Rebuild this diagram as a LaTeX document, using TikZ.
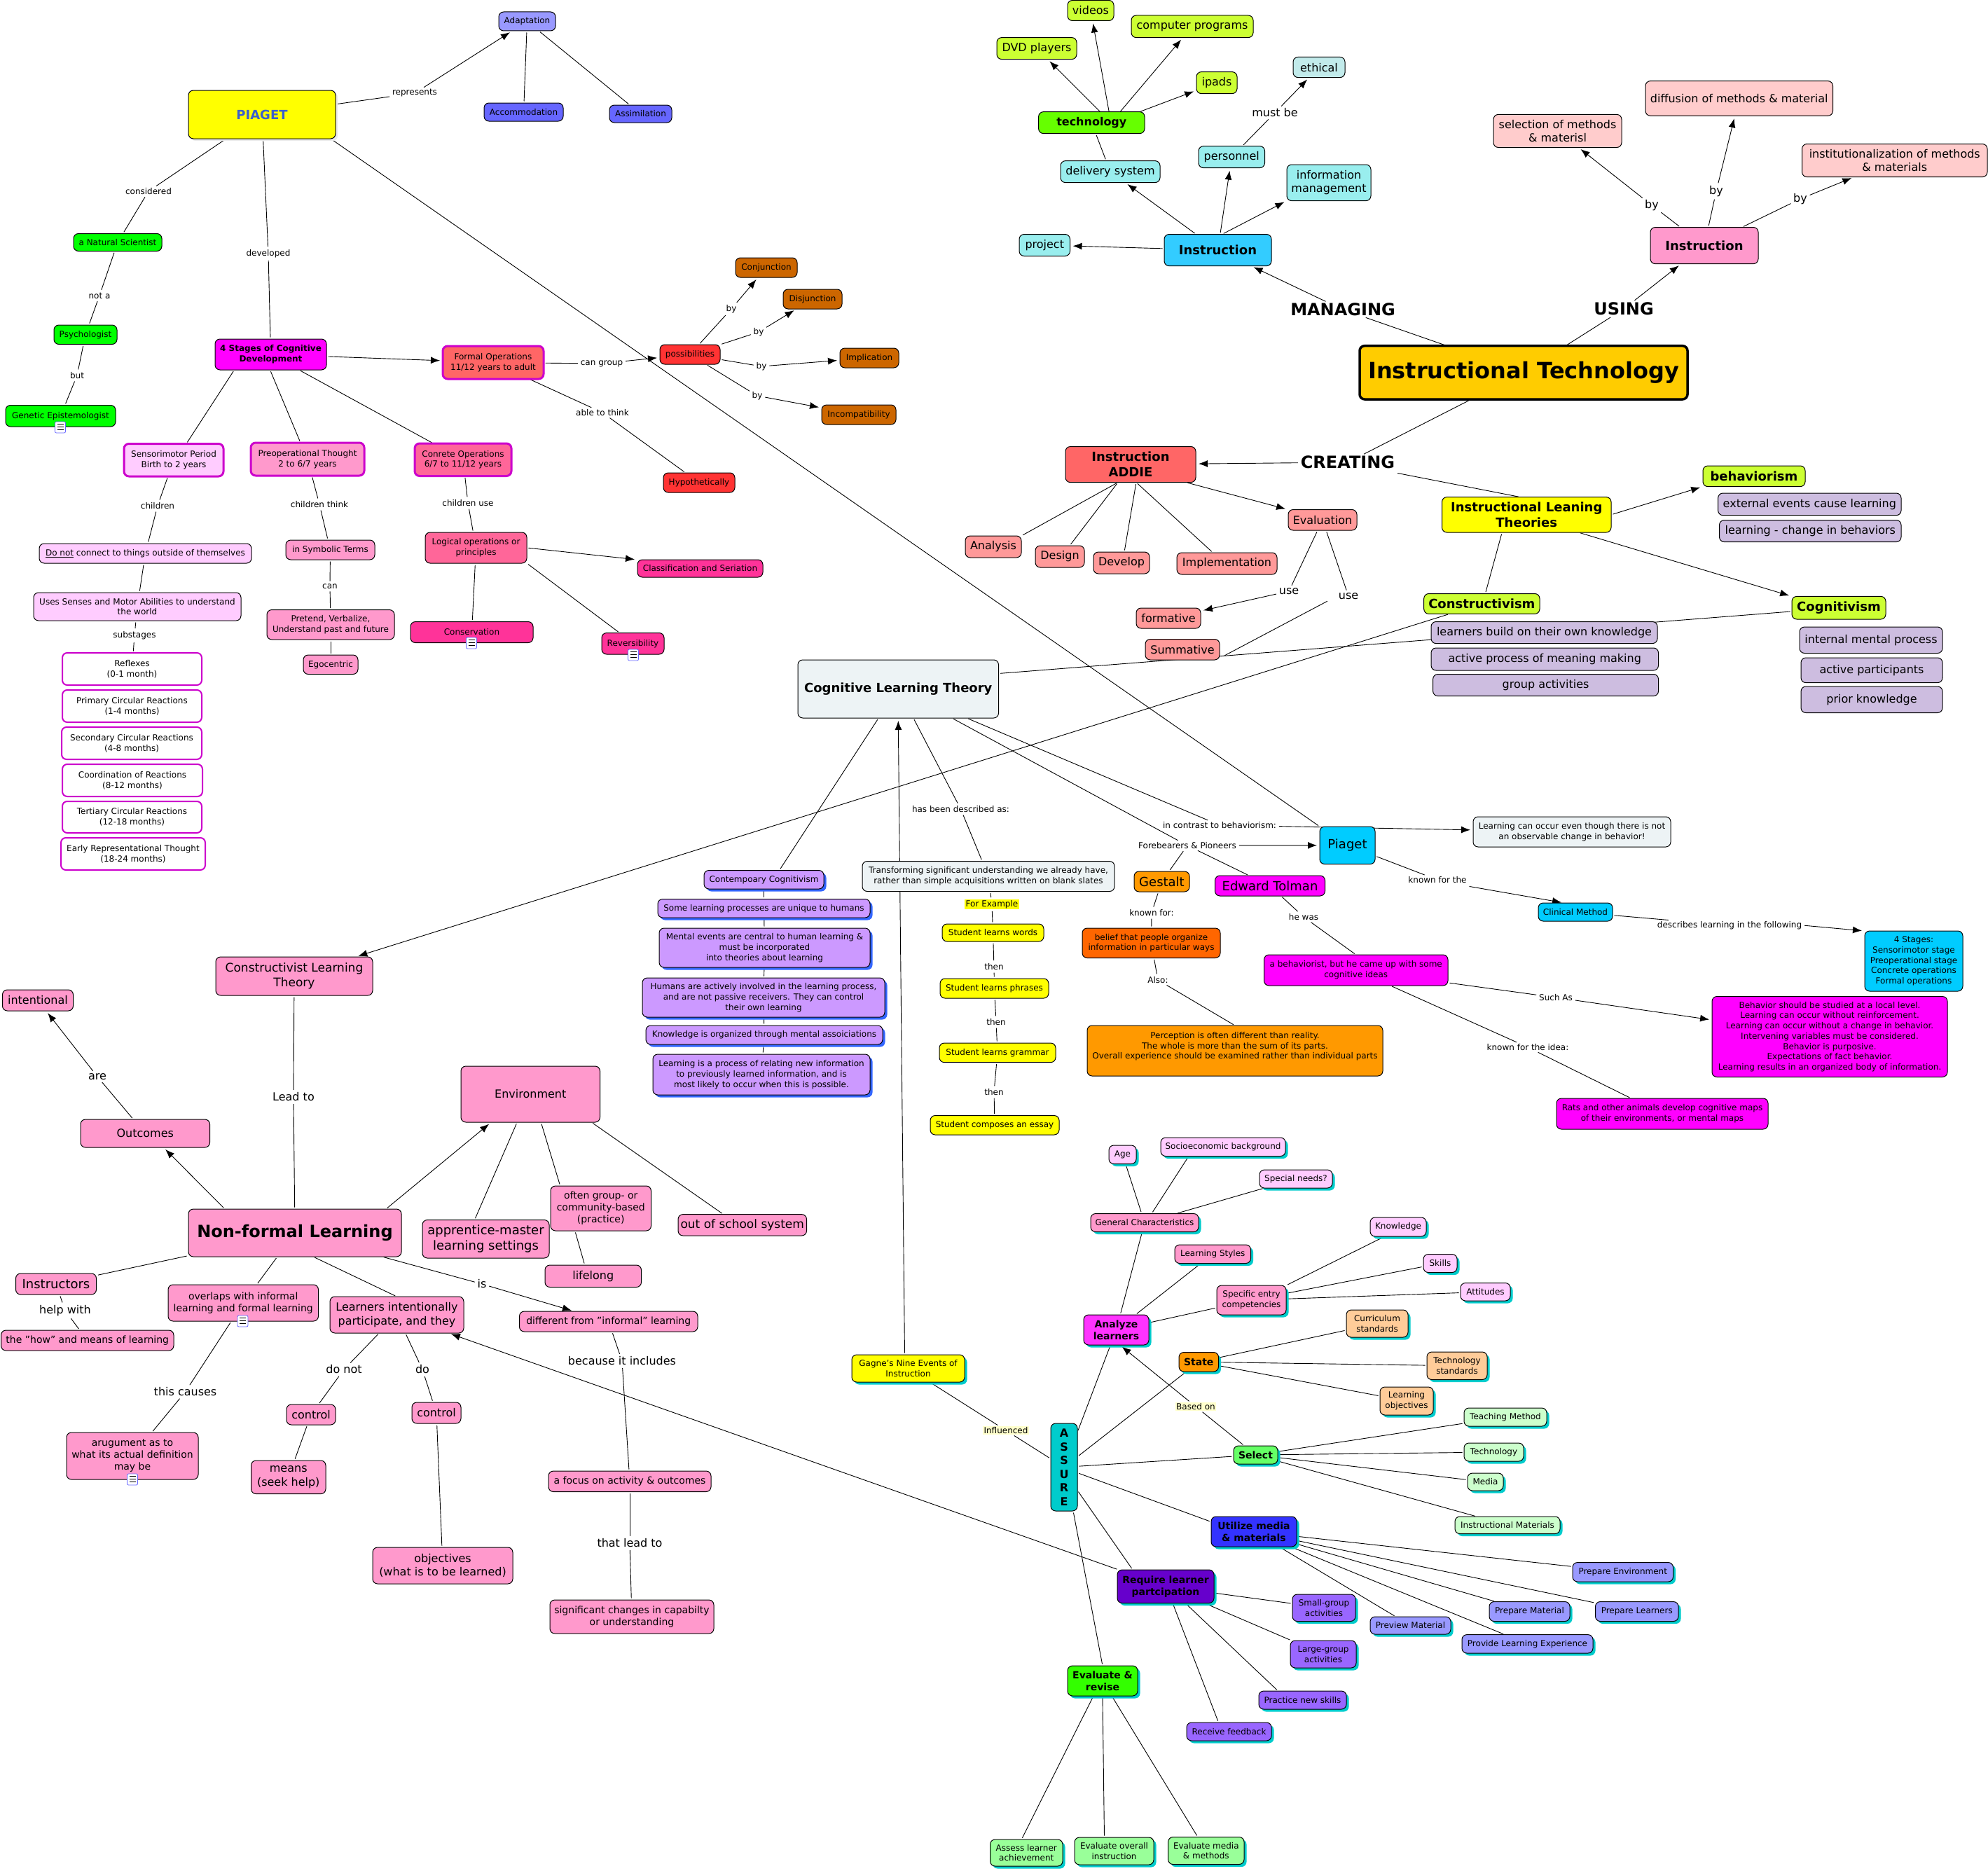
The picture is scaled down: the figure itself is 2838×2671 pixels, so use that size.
\documentclass[tikz,border=0pt]{standalone}
\usepackage{fontspec}
\setmainfont{DejaVu Sans}
\usetikzlibrary{arrows.meta,shadows,backgrounds}
\definecolor{cMag}{HTML}{CC00CC}
\definecolor{cSoft}{HTML}{EDF3F5}
\definecolor{cLil}{HTML}{CDBDE0}
\definecolor{cTeal}{HTML}{99EEEE}
\definecolor{cLime}{HTML}{CCFF33}
\definecolor{cPink}{HTML}{FF99CC}
\definecolor{cHot}{HTML}{FF3399}
\definecolor{cRose}{HTML}{FF6699}
\definecolor{cPale}{HTML}{FFCCFF}
\definecolor{cSalm}{HTML}{FF9999}
\definecolor{cRed}{HTML}{FF6666}
\definecolor{cBlush}{HTML}{FFCCCC}
\definecolor{cPur}{HTML}{CC99FF}
\definecolor{cSky}{HTML}{00CCFF}
\definecolor{cPeri}{HTML}{9999FF}
\definecolor{cViol}{HTML}{9966FF}
\definecolor{cShCy}{HTML}{00CCCC}
\definecolor{cShBl}{HTML}{3366FF}
\definecolor{cYel}{HTML}{FFFF00}
\definecolor{cFuch}{HTML}{FF00FF}
\definecolor{cGrn}{HTML}{00FF00}
\definecolor{cBlu6}{HTML}{6666FF}
\definecolor{cOra}{HTML}{FF9900}
\definecolor{cBrn}{HTML}{CC6600}
\definecolor{cRdd}{HTML}{FF3333}
\definecolor{cPch}{HTML}{FFCC99}
\definecolor{cMint}{HTML}{CCFFCC}
\definecolor{cLgr}{HTML}{99FF99}
\definecolor{cCrm}{HTML}{FFFFCC}
\tikzset{
  box/.style={draw=black,line width=1pt,rounded corners=7pt,align=center,inner sep=0pt,outer sep=0pt,text=black},
  lab/.style={fill=white,inner sep=1.5pt,outer sep=0pt,align=center,text=black,fa},
  fa/.style={font=\fontsize{12}{14.7}\selectfont},
  fb/.style={font=\fontsize{14}{17}\selectfont},
  fc/.style={font=\fontsize{16}{19.5}\selectfont},
  fd/.style={font=\fontsize{18}{22}\selectfont},
  fdm/.style={font=\fontsize{17}{21.5}\selectfont},
  fab/.style={font=\fontsize{12}{14.7}\selectfont\bfseries},
  fbb/.style={font=\fontsize{14}{17}\selectfont\bfseries},
  fcb/.style={font=\fontsize{16}{19.5}\selectfont\bfseries},
  fdb/.style={font=\fontsize{18}{22}\selectfont\bfseries},
  fxl/.style={font=\fontsize{24}{29}\selectfont\bfseries},
  fxx/.style={font=\fontsize{32}{38}\selectfont\bfseries},
  mg/.style={draw=cMag,line width=3pt},
  mt/.style={draw=cMag,line width=2pt},
  sc/.style={drop shadow={shadow xshift=3.5pt,shadow yshift=-3.5pt,fill=cShCy,opacity=1}},
  sb/.style={drop shadow={shadow xshift=3.5pt,shadow yshift=-3.5pt,fill=cShBl,opacity=1}},
  ln/.style={draw=black,line width=.9pt,shorten <=2.5pt,shorten >=2.5pt},
  ar/.style={ln,-{Latex[length=13pt,width=10pt]},shorten >=4pt},
  icf/.style={draw=blue!60,line width=.8pt,fill=white,rounded corners=2pt},
}
\newcommand\nd[7]{%
  \pgfmathsetmacro\ndcx{(#2+#4)/2}\pgfmathsetmacro\ndcy{-(#3+#5)/2}%
  \pgfmathsetmacro\ndw{#4-#2}\pgfmathsetmacro\ndh{#5-#3}%
  \node[box,minimum width=\ndw pt,minimum height=\ndh pt,#6] (#1) at (\ndcx pt,\ndcy pt) {#7};}
\newcommand\lb[5]{\node[lab,#4] (#1) at (#2pt,-#3pt) {#5};}
\newcommand\ed[2]{\draw[ln] (#1) -- (#2);}
\newcommand\ea[2]{\draw[ar] (#1) -- (#2);}
\newcommand\ic[2]{%
  \draw[icf] (#1pt-7.5pt,-#2pt+8pt) rectangle (#1pt+7.5pt,-#2pt-8pt);
  \draw[line width=.7pt] (#1pt-4.5pt,-#2pt+5pt) -- (#1pt+4.5pt,-#2pt+5pt) (#1pt-4.5pt,-#2pt+1pt) -- (#1pt+4.5pt,-#2pt+1pt) (#1pt-4.5pt,-#2pt-3pt) -- (#1pt+4.5pt,-#2pt-3pt);}
\begin{document}
\begin{tikzpicture}
\useasboundingbox (0,0) rectangle (2838pt,-2671pt);
% ---- Piaget region
\nd{adapt}{712}{17}{793}{44}{fill=cPeri,fa}{Adaptation}
\nd{accom}{691}{147}{804}{173}{fill=cBlu6,fa}{Accommodation}
\nd{assim}{870}{150}{959}{175}{fill=cBlu6,fa}{Assimilation}
\nd{piaget}{269}{129}{479}{198}{fill=cYel,fdb,text={rgb,255:red,58;green,95;blue,205},drop shadow={shadow xshift=3pt,shadow yshift=-3pt,fill=black!8,opacity=1}}{PIAGET}
\nd{natural}{105}{333.5}{231}{358.5}{fill=cGrn,fa}{a Natural Scientist}
\nd{psych}{77}{464}{167}{491.5}{fill=cGrn,fa}{Psychologist}
\nd{genetic}{8}{578.5}{165}{609}{fill=cGrn,fa}{Genetic Epistemologist}
\nd{stages}{307}{484}{466}{528}{fill=cFuch,fab}{4 Stages of Cognitive\\Development}
\nd{formal}{632}{494}{776}{541}{fill=cRed,mg,fa}{Formal Operations\\11/12 years to adult}
\nd{possib}{942}{492}{1028}{520}{fill=cRdd,fa}{possibilities}
\nd{conj}{1050}{368}{1138}{396}{fill=cBrn,fa}{Conjunction}
\nd{disj}{1118}{413}{1202}{441}{fill=cBrn,fa}{Disjunction}
\nd{impl}{1199}{497}{1283}{525}{fill=cBrn,fa}{Implication}
\nd{incomp}{1173}{578}{1279}{606}{fill=cBrn,fa}{Incompatibility}
\nd{hypo}{947}{675}{1049}{703}{fill=cRdd,fa}{Hypothetically}
\nd{senso}{177}{633.5}{319}{680}{fill=cPale,mg,fa}{Sensorimotor Period\\Birth to 2 years}
\nd{preop}{358}{632}{520}{679}{fill=cPink,mg,fa}{Preoperational Thought\\2 to 6/7 years}
\nd{conrete}{592}{633}{730}{679.5}{fill=cRose,mg,fa}{Conrete Operations\\6/7 to 11/12 years}
\nd{donot}{56}{776}{359}{804}{fill=cPale,fa}{\underline{Do not} connect to things outside of themselves}
\nd{uses}{48}{846}{344}{886}{fill=cPale,fa}{Uses Senses and Motor Abilities to understand\\the world}
\nd{reflex}{89}{932}{288}{978}{fill=white,mt,fa}{Reflexes\\(0-1 month)}
\nd{primary}{89}{985}{288}{1031}{fill=white,mt,fa}{Primary Circular Reactions\\(1-4 months)}
\nd{second}{88}{1038}{288}{1084}{fill=white,mt,fa}{Secondary Circular Reactions\\(4-8 months)}
\nd{coord}{89}{1091}{289}{1137}{fill=white,mt,fa}{Coordination of Reactions\\(8-12 months)}
\nd{tert}{89}{1144}{288}{1189}{fill=white,mt,fa}{Tertiary Circular Reactions\\(12-18 months)}
\nd{early}{87}{1196}{293}{1242}{fill=white,mt,fa}{Early Representational Thought\\(18-24 months)}
\nd{symb}{408}{771}{535}{799}{fill=cPink,fa}{in Symbolic Terms}
\nd{pretend}{381}{870.5}{563}{913}{fill=cPink,fa}{Pretend, Verbalize,\\Understand past and future}
\nd{ego}{433}{935}{511}{962.5}{fill=cPink,fa}{Egocentric}
\nd{logical}{607}{760}{752}{804}{fill=cRose,fa}{Logical operations or\\principles}
\nd{classif}{910}{799}{1089}{824}{fill=cHot,fa}{Classification and Seriation}
\nd{conserv}{586}{887.5}{761}{917.5}{fill=cHot,fa}{Conservation}
\nd{revers}{859}{903.5}{948}{934}{fill=cHot,fa}{Reversibility}
\lb{lrep}{592}{133}{}{represents}
\lb{lcons}{212}{273}{}{considered}
\lb{ldev}{383}{362}{}{developed}
\lb{lnota}{142}{422}{}{not a}
\lb{lbut}{110}{536}{}{but}
\lb{lcan}{859}{519}{}{can group}
\lb{lable}{860}{589}{}{able to think}
\lb{lby1}{1044}{441}{}{by}
\lb{lby2}{1083}{474}{}{by}
\lb{lby3}{1087}{523}{}{by}
\lb{lby4}{1081}{565}{}{by}
\lb{lch}{225}{722}{}{children}
\lb{lcht}{456}{720}{}{children think}
\lb{lchu}{668}{718}{}{children use}
\lb{lsub}{192}{907}{}{substages}
\lb{lcan2}{471}{837}{}{can}
% ---- Top right
\nd{videos}{1524}{0.5}{1590}{29.5}{fill=cLime,fc}{videos}
\nd{compu}{1615}{22}{1789}{53.6}{fill=cLime,fc}{computer programs}
\nd{dvd}{1423}{53.6}{1537}{84.6}{fill=cLime,fc}{DVD players}
\nd{ipads}{1708}{102.6}{1766}{133.6}{fill=cLime,fc}{ipads}
\nd{ethical}{1846}{81.5}{1920}{110.6}{fill={rgb,255:red,194;green,235;blue,235},fc}{ethical}
\nd{techn}{1482.6}{159.6}{1634}{190.6}{fill={rgb,255:red,102;green,255;blue,0},fcb}{technology}
\coordinate (techo) at (1586pt,-175pt);
\nd{personnel}{1711}{208.6}{1805.5}{239.6}{fill=cTeal,fc}{personnel}
\nd{delivery}{1514}{229.6}{1656}{260.6}{fill=cTeal,fc}{delivery system}
\nd{infom}{1837}{235}{1957}{286.6}{fill=cTeal,fc}{information\\management}
\nd{project}{1455}{334.5}{1527.5}{365.5}{fill=cTeal,fc}{project}
\nd{instrA}{1662}{334.5}{1815}{379.6}{fill={rgb,255:red,51;green,204;blue,255},fdb}{Instruction}
\nd{it}{1941}{493.7}{2409}{570}{fill={rgb,255:red,255;green,204;blue,0},fxx,line width=3.5pt}{Instructional Technology}
\nd{instrB}{2356}{324.5}{2510}{376.6}{fill=cPink,fdb}{Instruction}
\nd{select}{2132}{163.4}{2315}{210.5}{fill=cBlush,fc}{selection of methods\\\& materisl}
\nd{diffus}{2349}{115.6}{2616.5}{165.3}{fill=cBlush,fc}{diffusion of methods \& material}
\nd{instit}{2572.5}{205.5}{2837}{252.6}{fill=cBlush,fc}{institutionalization of methods\\\& materials}
\lb{lmust}{1820}{161}{fc}{must be}
\lb{lman}{1917}{442}{fxl}{MANAGING}
\lb{lusing}{2318}{441}{fxl}{USING}
\lb{lcreat}{1924}{660}{fxl}{CREATING}
\lb{lbyA}{2358}{293}{fc}{by}
\lb{lbyB}{2450}{273}{fc}{by}
\lb{lbyC}{2570}{284}{fc}{by}
\nd{addie}{1521}{637.5}{1707}{688.6}{fill=cRed,fdb}{Instruction\\ADDIE}
\nd{evalu}{1839}{727.5}{1937}{757}{fill=cSalm,fc}{Evaluation}
\nd{analysis}{1378}{765}{1458}{796}{fill=cSalm,fc}{Analysis}
\nd{design}{1478}{779}{1548}{810}{fill=cSalm,fc}{Design}
\nd{develop}{1561}{788}{1641}{819}{fill=cSalm,fc}{Develop}
\nd{implem}{1680}{789}{1823}{820}{fill=cSalm,fc}{Implementation}
\nd{format}{1622}{868}{1714}{897}{fill=cSalm,fc}{formative}
\nd{summat}{1635}{912.5}{1741}{942}{fill=cSalm,fc}{Summative}
\nd{theories}{2058.5}{709.6}{2300}{760}{fill=cYel,fdb}{Instructional Leaning\\Theories}
\nd{behav}{2431}{665}{2577}{694.6}{fill=cLime,fdb}{behaviorism}
\nd{ext}{2452.6}{704}{2714}{735.7}{fill=cLil,fc}{external events cause learning}
\nd{lchange}{2454.5}{742.5}{2714}{773.6}{fill=cLil,fc}{learning - change in behaviors}
\nd{constr}{2032.7}{847.5}{2198}{876.4}{fill=cLime,fdb}{Constructivism}
\nd{cognit}{2558}{851.4}{2692}{884}{fill=cLime,fdb}{Cognitivism}
\nd{lbuild}{2043}{887.5}{2366}{918.6}{fill=cLil,fc}{learners build on their own knowledge}
\nd{lactive}{2043}{925}{2367.5}{957}{fill=cLil,fc}{active process of meaning making}
\nd{lgroup}{2045.6}{962.5}{2367.5}{993.6}{fill=cLil,fc}{group activities}
\nd{linter}{2569}{895}{2773}{932.5}{fill=cLil,fc}{internal mental process}
\nd{lpart}{2571}{939}{2773}{974.6}{fill=cLil,fc}{active participants}
\nd{lprior}{2571}{980}{2773}{1017.5}{fill=cLil,fc}{prior knowledge}
\lb{luse1}{1840}{844}{fc}{use}
\lb{luse2}{1925}{851}{fc}{use}
% ---- Cognitive learning theory
\nd{clt}{1139}{942}{1425.5}{1025}{fill=cSoft,fdb}{Cognitive Learning Theory}
\nd{contemp}{1005}{1242.5}{1176}{1269}{fill=cPur,fa,sb}{Contempoary Cognitivism}
\nd{some}{939}{1283.5}{1242}{1310}{fill=cPur,fa,sb}{Some learning processes are unique to humans}
\nd{mental}{941}{1325}{1242}{1381}{fill=cPur,fa,sb}{Mental events are central to human learning \&\\must be incorporated\\into theories about learning}
\nd{humans}{917}{1396}{1263}{1452}{fill=cPur,fa,sb}{Humans are actively involved in the learning process,\\and are not passive receivers. They can control\\their own learning}
\nd{knowl}{922}{1464}{1260}{1491}{fill=cPur,fa,sb}{Knowledge is organized through mental assoiciations}
\nd{lproc}{932}{1505}{1242}{1563}{fill=cPur,fa,sb}{Learning is a process of relating new information\\to previously learned information, and is\\most likely to occur when this is possible.}
\nd{transf}{1231}{1229.5}{1591}{1272.5}{fill=cSoft,fa}{Transforming significant understanding we already have,\\rather than simple acquisitions written on blank slates}
\nd{swords}{1345}{1319}{1490}{1344}{fill=cYel,fa}{Student learns words}
\nd{sphr}{1342}{1397}{1497}{1425}{fill=cYel,fa}{Student learns phrases}
\nd{sgram}{1341}{1489}{1507}{1516.6}{fill=cYel,fa}{Student learns grammar}
\nd{sessay}{1328}{1592.5}{1512}{1620}{fill=cYel,fa}{Student composes an essay}
\nd{gestalt}{1619}{1244}{1698}{1273}{fill=cOra,fd}{Gestalt}
\nd{belief}{1545}{1325}{1742}{1367.5}{fill={rgb,255:red,255;green,102;blue,0},fa}{belief that people organize\\information in particular ways}
\nd{percep}{1552}{1464}{1974}{1536}{fill=cOra,fa}{Perception is often different than reality.\\The whole is more than the sum of its parts.\\Overall experience should be examined rather than individual parts\\~}
\nd{tolman}{1734.5}{1250}{1891.5}{1279}{fill=cFuch,fd}{Edward Tolman}
\nd{pb}{1884}{1180}{1963}{1233.6}{fill=cSky,fd}{Piaget}
\nd{lcoccur}{2103}{1166}{2385}{1209}{fill=cSoft,fa}{Learning can occur even though there is not\\an observable change in behavior!}
\nd{clin}{2196}{1289}{2302}{1315}{fill=cSky,fa}{Clinical Method}
\nd{four}{2662}{1329}{2802}{1415}{fill=cSky,fa}{4 Stages:\\Sensorimotor stage\\Preoperational stage\\Concrete operations\\Formal operations}
\nd{behist}{1804.5}{1363}{2067}{1407}{fill=cFuch,fa}{a behaviorist, but he came up with some\\cognitive ideas}
\nd{bbox}{2444}{1422.5}{2780}{1537.5}{fill=cFuch,fa}{Behavior should be studied at a local level.\\Learning can occur without reinforcement.\\Learning can occur without a change in behavior.\\Intervening variables must be considered.\\Behavior is purposive.\\Expectations of fact behavior.\\Learning results in an organized body of information.}
\nd{rats}{2222}{1568}{2524}{1612}{fill=cFuch,fa}{Rats and other animals develop cognitive maps\\of their environments, or mental maps}
\lb{lhas}{1371.5}{1155}{}{has been described as:}
\lb{lcontr}{1741}{1178}{}{in contrast to behaviorism:}
\lb{lfore}{1695}{1207}{}{Forebearers \& Pioneers}
\lb{lex}{1416}{1291}{fill=cYel}{For Example}
\lb{lth1}{1419}{1380}{}{then}
\lb{lth2}{1422}{1459}{}{then}
\lb{lth3}{1419}{1559}{}{then}
\lb{lkf}{1644}{1303}{}{known for:}
\lb{lalso}{1653}{1399}{}{Also:}
\lb{lhe}{1861}{1309}{}{he was}
\lb{lknt}{2052}{1256}{}{known for the}
\lb{ldesc}{2469}{1321}{}{describes learning in the following}
\lb{lsuch}{2221}{1424}{}{Such As}
\lb{lidea}{2181}{1495}{}{known for the idea:}
% ---- ASSURE
\nd{gagne}{1216}{1934}{1377}{1973}{fill=cYel,fa,sc}{Gagne\char39 s Nine Events of\\Instruction}
\nd{assure}{1500}{2032}{1538}{2157}{fill=cShCy,fcb}{A\\S\\S\\U\\R\\E}
\nd{age}{1583}{1635}{1622}{1661.5}{fill=cPale,fa,sc}{Age}
\nd{socio}{1657}{1624}{1835}{1650.5}{fill=cPale,fa,sc}{Socioeconomic background}
\nd{special}{1798}{1670}{1902}{1696}{fill=cPale,fa,sc}{Special needs?}
\nd{general}{1557}{1732.5}{1711}{1758.5}{fill=cPink,fa,sc}{General Characteristics}
\nd{lstyles}{1677}{1777}{1785.5}{1803.5}{fill=cPink,fa,sc}{Learning Styles}
\nd{know}{1956}{1738}{2036}{1765}{fill=cPale,fa,sc}{Knowledge}
\nd{skills}{2032}{1790.5}{2080}{1816.5}{fill=cPale,fa,sc}{Skills}
\nd{attit}{2085}{1831.5}{2156}{1857}{fill=cPale,fa,sc}{Attitudes}
\nd{specif}{1737}{1835}{1836}{1877}{fill=cPink,fa,sc}{Specific entry\\competencies}
\nd{analyze}{1547}{1877}{1640}{1920}{fill={rgb,255:red,255;green,51;blue,255},fbb,sc}{Analyze\\learners}
\nd{curric}{1922}{1870}{2010}{1909}{fill=cPch,fa,sc}{Curriculum\\standards}
\nd{state}{1683}{1930.5}{1739.5}{1958}{fill=cOra,fbb,sc}{State}
\nd{techstd}{2037}{1930}{2123}{1969.5}{fill=cPch,fa,sc}{Technology\\standards}
\nd{lobj}{1970}{1980}{2046}{2020}{fill=cPch,fa,sc}{Learning\\objectives}
\nd{teach}{2090}{2010}{2208}{2036}{fill=cMint,fa,sc}{Teaching Method}
\nd{selectn}{1761}{2064}{1824}{2090}{fill={rgb,255:red,102;green,255;blue,102},fbb,sc}{Select}
\nd{technol}{2090}{2060}{2175}{2086}{fill=cMint,fa,sc}{Technology}
\nd{media}{2095}{2103}{2146}{2128}{fill=cMint,fa,sc}{Media}
\nd{imat}{2077}{2165}{2227}{2189.5}{fill=cMint,fa,sc}{Instructional Materials}
\nd{utilize}{1729}{2165}{1851}{2208}{fill={rgb,255:red,51;green,51;blue,255},fbb,sc}{Utilize media\\\& materials}
\nd{penv}{2245}{2230.5}{2388.5}{2258}{fill=cPeri,fa,sc}{Prepare Environment}
\nd{pmat}{2126}{2286.5}{2241}{2314.5}{fill=cPeri,fa,sc}{Prepare Material}
\nd{plearn}{2277.5}{2286.5}{2396}{2314.5}{fill=cPeri,fa,sc}{Prepare Learners}
\nd{prev}{1956}{2308}{2071}{2333}{fill=cPeri,fa,sc}{Preview Material}
\nd{prov}{2087}{2333.6}{2274}{2360}{fill=cPeri,fa,sc}{Provide Learning Experience}
\nd{requ}{1595}{2241}{1733}{2288.5}{fill={rgb,255:red,102;green,0;blue,204},fbb,sc}{Require learner\\partcipation}
\nd{small}{1845}{2276}{1935}{2314.5}{fill=cViol,fa,sc}{Small-group\\activities}
\nd{large}{1842}{2342}{1936}{2381}{fill=cViol,fa,sc}{Large-group\\activities}
\nd{pract}{1797}{2414}{1922}{2440}{fill=cViol,fa,sc}{Practice new skills}
\nd{recv}{1694}{2459}{1815}{2485}{fill=cViol,fa,sc}{Receive feedback}
\nd{evrev}{1524}{2378}{1624}{2421}{fill={rgb,255:red,51;green,255;blue,0},fbb,sc}{Evaluate \&\\revise}
\nd{assess}{1413.5}{2626}{1517}{2664}{fill=cLgr,fa,sc}{Assess learner\\achievement}
\nd{eover}{1534}{2623}{1647}{2662}{fill=cLgr,fa,sc}{Evaluate overall\\instruction}
\nd{emed}{1667.6}{2622.5}{1776}{2661.5}{fill=cLgr,fa,sc}{Evaluate media\\\& methods}
\lb{linfl}{1436}{2042}{fill=cCrm}{Influenced}
\lb{lbased}{1707}{2008}{fill=cCrm}{Based on}
% ---- Non-formal
\nd{clearn}{308}{1366}{532}{1421}{fill=cPink,fdm}{Constructivist Learning\\Theory}
\nd{intent}{3.5}{1413}{104.5}{1443}{fill=cPink,fc}{intentional}
\nd{outcomes}{115}{1598}{299.5}{1638}{fill=cPink,fc}{Outcomes}
\nd{envir}{658}{1522}{856.5}{1602}{fill=cPink,fc}{Environment}
\nd{nonf}{269}{1726}{573}{1794}{fill=cPink,fxl}{Non-formal Learning}
\nd{appr}{603}{1741.5}{784}{1796}{fill=cPink,fd}{apprentice-master\\learning settings}
\nd{often}{786}{1693}{929.5}{1757}{fill=cPink,fb}{often group- or\\community-based\\(practice)}
\nd{oos}{968}{1733.6}{1151.5}{1764}{fill=cPink,fdm}{out of school system}
\nd{lifel}{778}{1806}{915.5}{1837.5}{fill=cPink,fc}{lifelong}
\nd{instrs}{22.5}{1818}{137.5}{1848}{fill=cPink,fd}{Instructors}
\nd{how}{1.5}{1899}{248}{1928}{fill=cPink,fb}{the \char34 how\char34{} and means of learning}
\nd{overl}{240}{1834}{454.5}{1886}{fill=cPink,fb}{overlaps with informal\\learning and formal learning}
\nd{learners}{471}{1851}{662}{1903}{fill=cPink,fc}{Learners intentionally\\participate, and they}
\nd{diffr}{741.5}{1872}{996}{1901}{fill=cPink,fb}{different from \char34 informal\char34{} learning}
\nd{argu}{95}{2045}{283}{2112}{fill=cPink,fb}{arugument as to\\what its actual definition\\may be}
\nd{ctrlA}{409}{2005}{479}{2034}{fill=cPink,fc}{control}
\nd{means}{358.5}{2085}{465}{2132.6}{fill=cPink,fc}{means\\(seek help)}
\nd{ctrlB}{588}{2002}{658}{2032}{fill=cPink,fc}{control}
\nd{objec}{532}{2209}{732}{2261}{fill=cPink,fc}{objectives\\(what is to be learned)}
\nd{focus}{783}{2100}{1015}{2129.5}{fill=cPink,fb}{a focus on activity \& outcomes}
\nd{signif}{785}{2284}{1019}{2332}{fill=cPink,fb}{significant changes in capabilty\\or understanding}
\lb{lare}{139}{1537}{fc}{are}
\lb{lead}{419}{1566}{fc}{Lead to}
\lb{lis}{688}{1833}{fc}{is}
\lb{lhelp}{93}{1871}{fc}{help with}
\lb{lcaus}{264.5}{1987}{fc}{this causes}
\lb{ldon}{491}{1955}{fc}{do not}
\lb{ldo}{603}{1955}{fc}{do}
\lb{lbec}{888}{1943}{fc}{because it includes}
\lb{lthat}{899}{2203}{fc}{that lead to}
% ---- icons
\ic{86}{610}
\ic{673}{918}
\ic{904}{935}
\ic{346.5}{1886}
\ic{189}{2112}
% ---- connectors
\begin{pgfonlayer}{background}
\fill[white] (0,0) rectangle (2838pt,-2671pt);
\ed{piaget}{lrep} \ea{lrep}{adapt} \ed{adapt}{accom} \ed{adapt}{assim}
\ed{piaget}{lcons} \ed{lcons}{natural} \ed{natural}{lnota} \ed{lnota}{psych} \ed{psych}{lbut} \ed{lbut}{genetic}
\ed{piaget}{ldev} \ed{ldev}{stages} \ea{stages}{formal}
\ed{[xshift=-52pt]stages.south}{[xshift=18pt]senso.north}
\ed{[xshift=-1pt]stages.south}{[xshift=-10pt]preop.north}
\ed{stages}{conrete}
\ed{formal}{lcan} \ea{lcan}{possib} \ed{formal}{lable} \ed{lable}{hypo}
\ed{possib}{lby1} \ea{lby1}{conj} \ed{possib}{lby2} \ea{lby2}{disj} \ed{possib}{lby3} \ea{lby3}{impl} \ed{possib}{lby4} \ea{lby4}{incomp}
\ed{[xshift=-7pt]piaget.south east}{pb.north west}
\ed{senso}{lch} \ed{lch}{donot} \ed{donot}{uses} \ed{uses}{lsub} \ed{lsub}{reflex}
\ed{preop}{lcht} \ed{lcht}{symb} \ed{symb}{lcan2} \ed{lcan2}{pretend} \ed{pretend}{ego}
\ed{conrete}{lchu} \ed{lchu}{logical}
\ea{logical.east}{classif.north west}
\ed{logical}{conserv}
\ed{logical.south east}{[xshift=-19pt]revers.north}
\ed{it}{lman} \ea{lman}{instrA} \ed{it}{lusing} \ea{lusing}{instrB} \ed{it}{lcreat} \ea{lcreat}{addie}
\ed{[yshift=-15pt]lcreat.east}{[xshift=-9pt]theories.north}
\ea{instrA}{project} \ea{instrA}{delivery} \ea{instrA}{personnel}
\ea{[xshift=6pt]instrA.north}{infom.south west}
\ed{delivery}{techn}
\ea{techo}{dvd} \ea{techo}{videos} \ea{techo}{compu} \ea{techo}{ipads}
\ed{personnel}{lmust} \ea{lmust}{ethical}
\ed{instrB}{lbyA} \ea{lbyA}{select} \ed{instrB}{lbyB} \ea{lbyB}{diffus} \ed{instrB}{lbyC} \ea{lbyC}{instit}
\ed{[xshift=-18pt]addie.south}{analysis.north east}
\ed{[xshift=-18pt]addie.south}{[xshift=14pt]design.north}
\ed{[xshift=8pt]addie.south}{[xshift=4pt]develop.north}
\ed{[xshift=8pt]addie.south}{[xshift=-20pt]implem.north}
\ea{[xshift=79pt]addie.south}{evalu.north west}
\ed{evalu}{luse1} \ea{luse1}{format} \ed{evalu}{luse2}
\ed{[xshift=-28pt]luse2.south}{[shift={(5pt,5pt)}]summat.south east}
\ea{theories.east}{behav.south west}
\ea{[xshift=74pt]theories.south}{cognit.north west}
\ed{[xshift=-35pt]theories.south}{[xshift=5pt]constr.north}
\ea{constr}{clearn}
\ed{cognit}{[yshift=22pt]clt.east}
\ed{[xshift=-28pt]clt.south}{[xshift=22pt]contemp.north}
\ed{contemp}{some} \ed{some}{mental} \ed{mental}{humans} \ed{humans}{knowl} \ed{knowl}{lproc}
\ea{[xshift=-5pt]gagne.north}{clt.south} \ed{gagne}{linfl} \ed{linfl}{assure}
\ed{clt}{lhas} \ed{lhas}{transf} \ed{transf}{lex} \ed{lex}{swords} \ed{swords}{lth1} \ed{lth1}{sphr} \ed{sphr}{lth2} \ed{lth2}{sgram} \ed{sgram}{lth3} \ed{lth3}{sessay}
\ed{clt}{lcontr} \ea{lcontr}{lcoccur} \ed{clt}{lfore} \ea{lfore}{pb} \ed{lfore}{gestalt} \ed{lfore}{tolman}
\ed{gestalt}{lkf} \ed{lkf}{belief} \ed{belief}{lalso} \ed{lalso}{percep.north}
\ed{tolman}{lhe} \ed{lhe}{behist.north} \ed{behist}{lsuch} \ea{lsuch}{bbox} \ed{behist}{lidea} \ed{lidea}{rats}
\ed{pb}{lknt} \ea{[yshift=-9pt]lknt.east}{[xshift=-16pt]clin.north} \ed{clin}{ldesc} \ea{ldesc.east}{four.north west}
\ed{assure}{analyze} \ed{assure}{state} \ed{assure}{selectn}
\ed{[yshift=-8pt]assure.east}{[yshift=14pt]utilize.west}
\ed{[yshift=-33pt]assure.east}{[xshift=-47pt]requ.north}
\ed{[xshift=13pt]assure.south}{evrev.north}
\ea{requ}{learners}
\ed{analyze}{general} \ed{analyze}{lstyles} \ed{analyze}{specif} \ed{general}{age}
\ed{[xshift=10pt]general.north}{[xshift=-49pt]socio.south}
\ed{general}{special}
\ed{specif.north east}{[xshift=-19pt]know.south} \ed{specif}{skills} \ed{specif}{attit}
\ed{state}{curric} \ed{state}{techstd} \ed{state}{lobj}
\ed{selectn}{lbased} \ea{lbased}{[xshift=5pt]analyze.south} \ed{selectn}{teach} \ed{selectn}{technol} \ed{selectn}{media} \ed{selectn}{imat}
\ed{utilize}{penv} \ed{utilize}{pmat} \ed{utilize}{plearn} \ed{utilize}{prev} \ed{utilize}{prov}
\ed{requ}{small} \ed{requ}{large}
\ed{[xshift=28pt]requ.south}{[xshift=-35pt]pract.north}
\ed{[xshift=10pt]requ.south}{[xshift=-15pt]recv.north}
\ed{[xshift=-13pt]evrev.south}{[xshift=-7pt]assess.north}
\ed{evrev.south}{[xshift=-14pt]eover.north}
\ed{evrev}{emed}
\ed{clearn}{lead} \ed{lead}{nonf}
\ea{[xshift=-100pt]nonf.north}{[xshift=26pt]outcomes.south}
\ed{outcomes}{lare} \ea{lare}{intent}
\ea{[xshift=130pt]nonf.north}{[xshift=-56pt]envir.south}
\ed{[xshift=-19pt]envir.south}{[xshift=-16pt]appr.north}
\ed{[xshift=15pt]envir.south}{[xshift=-58pt]often.north}
\ed{[xshift=87pt]envir.south}{[xshift=-27pt]oos.north}
\ed{[xshift=-37pt]often.south}{[xshift=-12pt]lifel.north}
\ed{nonf}{instrs} \ed{instrs}{lhelp} \ed{lhelp}{how}
\ed{nonf}{overl} \ed{overl}{lcaus} \ed{lcaus}{argu}
\ed{[xshift=26pt]nonf.south}{learners.north}
\ed{learners}{ldon} \ed{ldon}{ctrlA} \ed{ctrlA}{means} \ed{learners}{ldo} \ed{ldo}{ctrlB} \ed{ctrlB}{objec}
\ed{nonf}{lis} \ea{lis}{diffr} \ed{diffr}{lbec} \ed{lbec}{focus} \ed{focus}{lthat} \ed{lthat}{signif}
\end{pgfonlayer}
\end{tikzpicture}
\end{document}
